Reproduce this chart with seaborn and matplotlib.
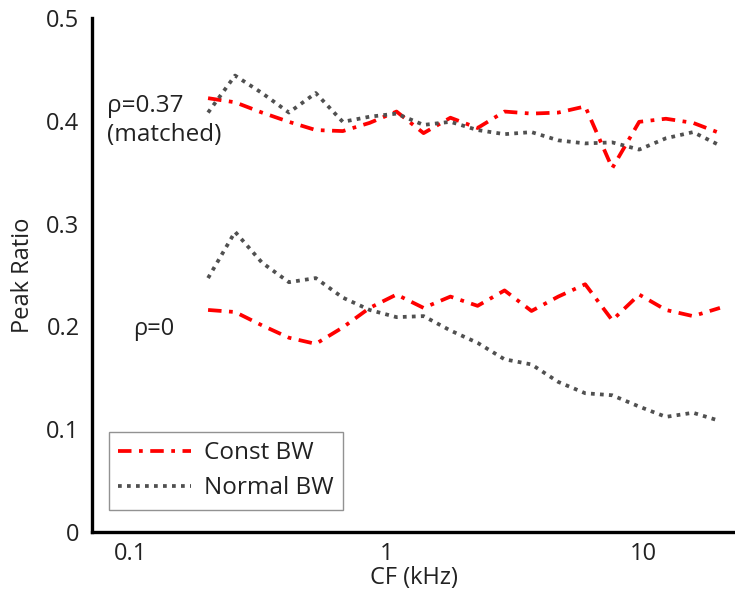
import numpy as np
import pandas as pd
import seaborn as sns
import matplotlib.pyplot as plt
from matplotlib.ticker import FixedLocator, FixedFormatter, LogLocator, NullFormatter

# CF 값 (kHz), 0.2 ~ 20 kHz 로그 간격 20개
cf_khz = [0.2, 0.255, 0.325, 0.414, 0.527, 0.672, 0.856, 1.09, 1.39, 1.77,
          2.26, 2.88, 3.67, 4.67, 5.95, 7.59, 9.67, 12.3, 15.7, 20.0]

# rho = 0.37 (matched)
const_matched = [0.422, 0.418, 0.408, 0.399, 0.391, 0.390, 0.398, 0.409, 0.388, 0.403,
                 0.393, 0.409, 0.407, 0.408, 0.414, 0.354, 0.399, 0.402, 0.398, 0.388]
normal_matched = [0.408, 0.444, 0.427, 0.408, 0.427, 0.399, 0.404, 0.407, 0.396, 0.399,
                  0.391, 0.387, 0.389, 0.381, 0.378, 0.379, 0.372, 0.383, 0.389, 0.376]

# rho = 0
const_zero = [0.216, 0.214, 0.201, 0.189, 0.183, 0.199, 0.218, 0.231, 0.218, 0.229,
              0.220, 0.235, 0.215, 0.229, 0.241, 0.206, 0.231, 0.216, 0.210, 0.218]
normal_zero = [0.247, 0.292, 0.262, 0.243, 0.247, 0.228, 0.216, 0.209, 0.210, 0.196,
               0.184, 0.168, 0.163, 0.146, 0.135, 0.133, 0.122, 0.112, 0.116, 0.108]

y_ticks = [0, 0.1, 0.2, 0.3, 0.4, 0.5]
y_tick_labels = ['0', '0.1', '0.2', '0.3', '0.4', '0.5']
x_ticks = [0.1, 1, 10]
x_tick_labels = ['0.1', '1', '10']

sns.set_style("white")
plt.rcParams['font.family'] = ['Open Sans', 'DejaVu Sans']

df = pd.DataFrame({'cf': cf_khz,
                   'const_m': const_matched, 'normal_m': normal_matched,
                   'const_0': const_zero, 'normal_0': normal_zero})

red = '#ff0000'
gray = '#505050'
dashdot = (0, (3.6, 2.0, 1.0, 2.0))
dotted = (0, (1.0, 1.4))
fs = 17
txt = '#222222'

fig = plt.figure(figsize=(7.35, 6.0), dpi=100)
ax = fig.add_axes([92 / 735, 68 / 600, 643 / 735, 514 / 600])

sns.lineplot(data=df, x='cf', y='const_m', ax=ax, color=red, lw=2.7, linestyle=dashdot, label='Const BW')
sns.lineplot(data=df, x='cf', y='normal_m', ax=ax, color=gray, lw=2.7, linestyle=dotted, label='Normal BW')
sns.lineplot(data=df, x='cf', y='const_0', ax=ax, color=red, lw=2.7, linestyle=dashdot)
sns.lineplot(data=df, x='cf', y='normal_0', ax=ax, color=gray, lw=2.7, linestyle=dotted)

ax.set_xscale('log')
ax.set_xlim(0.0704, 22.9)
ax.set_ylim(0, 0.5)

ax.xaxis.set_major_locator(FixedLocator(x_ticks))
ax.xaxis.set_major_formatter(FixedFormatter(x_tick_labels))
ax.xaxis.set_minor_locator(LogLocator(base=10, subs=np.arange(2, 10), numticks=20))
ax.xaxis.set_minor_formatter(NullFormatter())
ax.yaxis.set_major_locator(FixedLocator(y_ticks))
ax.yaxis.set_major_formatter(FixedFormatter(y_tick_labels))

ax.tick_params(which='major', direction='in', length=4, width=1.6, labelsize=fs, colors='black',
               labelcolor=txt, pad=7)
ax.tick_params(which='minor', direction='in', length=2, width=1.6, colors='black')
ax.tick_params(axis='y', which='major', pad=9)

for s in ['top', 'right']:
    ax.spines[s].set_visible(False)
for s in ['left', 'bottom']:
    ax.spines[s].set_linewidth(2.4)
    ax.spines[s].set_color('black')

ax.set_xlabel('CF (kHz)', fontsize=fs, color=txt, labelpad=0)
ax.set_ylabel('Peak Ratio', fontsize=fs, color=txt, labelpad=8)

ax.text(0.024, 0.80, 'ρ=0.37\n(matched)', transform=ax.transAxes, fontsize=17.5,
        color=txt, ha='left', va='center', linespacing=1.3)
ax.text(0.064, 0.395, 'ρ=0', transform=ax.transAxes, fontsize=fs,
        color=txt, ha='left', va='center')

leg = ax.legend(loc='lower left', bbox_to_anchor=(0.026, 0.043), borderaxespad=0,
                fontsize=17.5, handlelength=3.0, handletextpad=0.5, labelspacing=0.45,
                frameon=True, fancybox=False, edgecolor='#777777', borderpad=0.4)
leg.get_frame().set_linewidth(1.0)
for t in leg.get_texts():
    t.set_color(txt)

fig.savefig('out.png', dpi=100)
